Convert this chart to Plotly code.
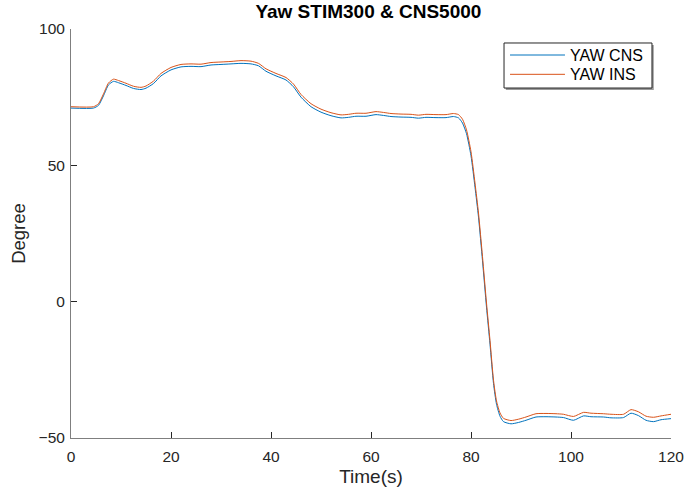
import plotly.graph_objects as go

# Time axis (s) and yaw angle (deg) for the two sensors
time_s = [0, 4.5, 5.5, 6.5, 7.5, 8.5, 9.5, 11, 12.5, 14, 15, 16.5, 18, 20, 22, 24, 26, 28, 30,
          32, 34, 36, 37.5, 39, 41, 43, 44.5, 46, 48, 50, 52, 54, 55.5, 57, 59, 61, 62.5, 64,
          66, 68, 69.5, 71, 73, 75, 76.5, 77.5, 78.3, 79.1, 80, 80.8, 81.5, 82.3, 83.1, 83.8,
          84.5, 85.1, 85.8, 86.5, 88, 89.5, 91, 93, 95, 97, 98.5, 100.5, 102.5, 104, 106.5,
          108, 110.5, 112, 113.5, 115, 116.5, 118, 120]

yaw_cns = [71.0, 71.0, 72.0, 75.5, 79.5, 80.8, 80.3, 79.3, 78.2, 77.8, 78.3, 80.0, 82.8, 85.0,
           86.1, 86.3, 86.2, 86.8, 87.0, 87.2, 87.4, 87.2, 86.5, 84.5, 82.8, 81.3, 78.8, 75.0,
           71.5, 69.5, 68.2, 67.4, 67.6, 68.0, 68.0, 68.6, 68.3, 67.9, 67.7, 67.6, 67.3, 67.6,
           67.5, 67.5, 67.9, 67.4, 65.5, 61.6, 53.5, 42.0, 31.0, 15.0, -2.0, -15.6, -30.0,
           -37.6, -42.0, -44.0, -44.8, -44.3, -43.5, -42.3, -42.2, -42.3, -42.5, -43.5, -41.9,
           -42.2, -42.3, -42.6, -42.5, -40.9, -41.8, -43.5, -44.0, -43.3, -42.9]

yaw_ins = [71.5, 71.5, 72.6, 76.2, 80.2, 81.6, 81.1, 80.1, 79.0, 78.6, 79.1, 80.9, 83.7, 85.9,
           87.0, 87.2, 87.1, 87.7, 87.9, 88.1, 88.4, 88.2, 87.4, 85.4, 83.7, 82.2, 79.8, 76.0,
           72.6, 70.6, 69.3, 68.5, 68.7, 69.1, 69.1, 69.7, 69.4, 69.0, 68.8, 68.7, 68.4, 68.7,
           68.6, 68.6, 69.0, 68.6, 66.9, 63.0, 55.0, 43.5, 32.5, 16.5, -0.5, -14.2, -28.8,
           -36.4, -40.8, -42.8, -43.6, -43.1, -42.3, -41.1, -41.0, -41.1, -41.3, -42.1, -40.6,
           -40.9, -41.1, -41.3, -41.3, -39.6, -40.4, -42.0, -42.4, -41.9, -41.3]

series_names = ["YAW CNS", "YAW INS"]
series_colors = ["#0072BD", "#D95319"]

x_ticks = [0, 20, 40, 60, 80, 100, 120]
y_ticks = [-50, 0, 50, 100]

FONT = "Liberation Sans, Arial, Helvetica, sans-serif"
AX = "#262626"

fig = go.Figure()
for name, vals, col in zip(series_names, [yaw_cns, yaw_ins], series_colors):
    fig.add_trace(go.Scatter(x=time_s, y=vals, mode="lines", name=name, showlegend=False,
                             line=dict(color=col, width=1, shape="spline", smoothing=0.6)))

axis_common = dict(showgrid=False, zeroline=False, showline=True, linecolor="#7f7f7f",
                   linewidth=1, ticks="inside", ticklen=6, tickcolor=AX, tickwidth=1,
                   tickfont=dict(family=FONT, size=15.5, color=AX), mirror=False,
                   automargin=False)

fig.update_xaxes(range=[0, 120], tickvals=x_ticks, ticklabelstandoff=4,
                 title=dict(text="Time(s)", font=dict(family=FONT, size=19, color=AX), standoff=6),
                 **axis_common)
fig.update_yaxes(range=[-50, 100], tickvals=y_ticks, ticklabelstandoff=2,
                 title=dict(text="Degree", font=dict(family=FONT, size=18.5, color=AX), standoff=8),
                 **axis_common)

# Boxed legend in the upper right, with a soft drop shadow
L, R, T, B = 0.7217, 0.9683, 0.9658, 0.8557
fig.add_shape(type="rect", xref="paper", yref="paper", x0=L + 0.003, x1=R + 0.003,
              y0=B - 0.005, y1=T - 0.005, fillcolor="#9a9a9a", line=dict(width=0), layer="above")
fig.add_shape(type="rect", xref="paper", yref="paper", x0=L, x1=R, y0=B, y1=T,
              fillcolor="white", line=dict(color="#262626", width=1), layer="above")
entry_y = [0.9364, 0.8892]
for name, col, yy in zip(series_names, series_colors, entry_y):
    fig.add_shape(type="line", xref="paper", yref="paper", x0=0.7317, x1=0.8233, y0=yy, y1=yy,
                  line=dict(color=col, width=1), layer="above")
    fig.add_annotation(xref="paper", yref="paper", x=0.829, y=yy, text=name, showarrow=False,
                       xanchor="left", yanchor="middle",
                       font=dict(family=FONT, size=16, color="black"))

fig.update_layout(
    width=686, height=491,
    margin=dict(l=71, r=15, t=29, b=53),
    paper_bgcolor="white", plot_bgcolor="white",
    title=dict(text="<b>Yaw STIM300 & CNS5000</b>", x=0.537, xanchor="center", y=0.976,
               yanchor="middle", font=dict(family=FONT, size=19, color="black")),
    showlegend=False,
)

fig.write_html("out.html")
